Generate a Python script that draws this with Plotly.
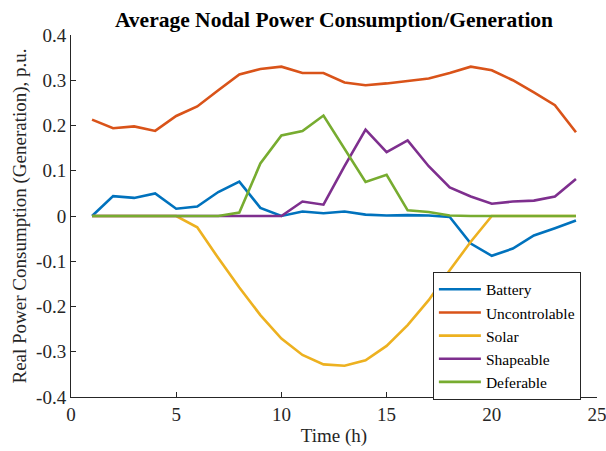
import plotly.graph_objects as go

hours = list(range(1, 25))
battery = [0.0, 0.044, 0.040, 0.050, 0.016, 0.021, 0.053, 0.076, 0.018, 0.0,
           0.010, 0.006, 0.010, 0.003, 0.001, 0.002, 0.001, -0.002, -0.061, -0.088,
           -0.072, -0.043, -0.027, -0.010]
uncontrolable = [0.213, 0.194, 0.198, 0.188, 0.221, 0.242, 0.278, 0.313, 0.325, 0.330,
                 0.316, 0.316, 0.295, 0.289, 0.293, 0.298, 0.304, 0.316, 0.330, 0.322,
                 0.300, 0.273, 0.245, 0.185]
solar = [0.0, 0.0, 0.0, 0.0, 0.0, -0.025, -0.093, -0.158, -0.219, -0.271,
         -0.307, -0.328, -0.331, -0.319, -0.287, -0.241, -0.186, -0.120, -0.057, 0.0,
         0.0, 0.0, 0.0, 0.0]
shapeable = [0.0, 0.0, 0.0, 0.0, 0.0, 0.0, 0.0, 0.0, 0.0, 0.0,
             0.032, 0.025, 0.110, 0.191, 0.141, 0.167, 0.110, 0.063, 0.043, 0.027,
             0.032, 0.034, 0.043, 0.082]
deferable = [0.0, 0.0, 0.0, 0.0, 0.0, 0.0, 0.0, 0.0075, 0.116, 0.178,
             0.188, 0.222, 0.147, 0.075, 0.091, 0.0125, 0.009, 0.001, 0.0, 0.0,
             0.0, 0.0, 0.0, 0.0]

series = [
    ("Battery", battery, "#0072BD"),
    ("Uncontrolable", uncontrolable, "#D95319"),
    ("Solar", solar, "#EDB120"),
    ("Shapeable", shapeable, "#7E2F8E"),
    ("Deferable", deferable, "#77AC30"),
]

x_ticks = [0, 5, 10, 15, 20, 25]
y_ticks = [-0.4, -0.3, -0.2, -0.1, 0, 0.1, 0.2, 0.3, 0.4]
y_tick_text = ["-0.4", "-0.3", "-0.2", "-0.1", "0", "0.1", "0.2", "0.3", "0.4"]

fig = go.Figure()
for name, vals, color in series:
    fig.add_trace(go.Scatter(x=hours, y=vals, mode="lines", name=name,
                             line=dict(color=color, width=2.6)))

font_family = "Liberation Serif, Times New Roman, serif"
axis_color = "#262626"

fig.update_layout(
    width=606, height=451,
    margin=dict(l=71, r=9, t=35, b=54),
    paper_bgcolor="white", plot_bgcolor="white",
    font=dict(family=font_family, size=19, color=axis_color),
    title=dict(text="<b>Average Nodal Power Consumption/Generation</b>",
               x=0.5, xanchor="center", xref="paper", y=1 - 19 / 451, yanchor="middle",
               font=dict(family=font_family, size=21.5, color="black")),
    xaxis=dict(range=[0, 25], tickvals=x_ticks, ticks="inside", ticklen=5,
               tickcolor=axis_color, showline=True, linecolor=axis_color, linewidth=1,
               showgrid=False, zeroline=False, mirror=False, automargin=False,
               ticklabeloverflow="allow",
               title=dict(text="Time (h)", font=dict(size=19, family=font_family), standoff=4),
               tickfont=dict(size=19, family=font_family)),
    yaxis=dict(range=[-0.4, 0.4], tickvals=y_ticks, ticktext=y_tick_text, ticks="inside",
               ticklen=5, tickcolor=axis_color, showline=True, linecolor=axis_color,
               linewidth=1, showgrid=False, zeroline=False, mirror=False, automargin=False,
               ticklabeloverflow="allow",
               title=dict(text="Real Power Consumption (Generation), p.u.",
                          font=dict(size=19, family=font_family), standoff=4),
               tickfont=dict(size=19, family=font_family)),
    legend=dict(x=0.688, y=0.346, xanchor="left", yanchor="top",
                bgcolor="white", bordercolor=axis_color, borderwidth=1,
                font=dict(size=15.5, family=font_family, color="black"),
                tracegroupgap=0, itemwidth=42),
    showlegend=True,
)

# remove the browser's default page margin so the figure fills the window exactly
fig.write_html(
    "out.html",
    config={"displayModeBar": False},
    post_script="document.body.style.margin='0';document.body.style.overflow='hidden';",
)
